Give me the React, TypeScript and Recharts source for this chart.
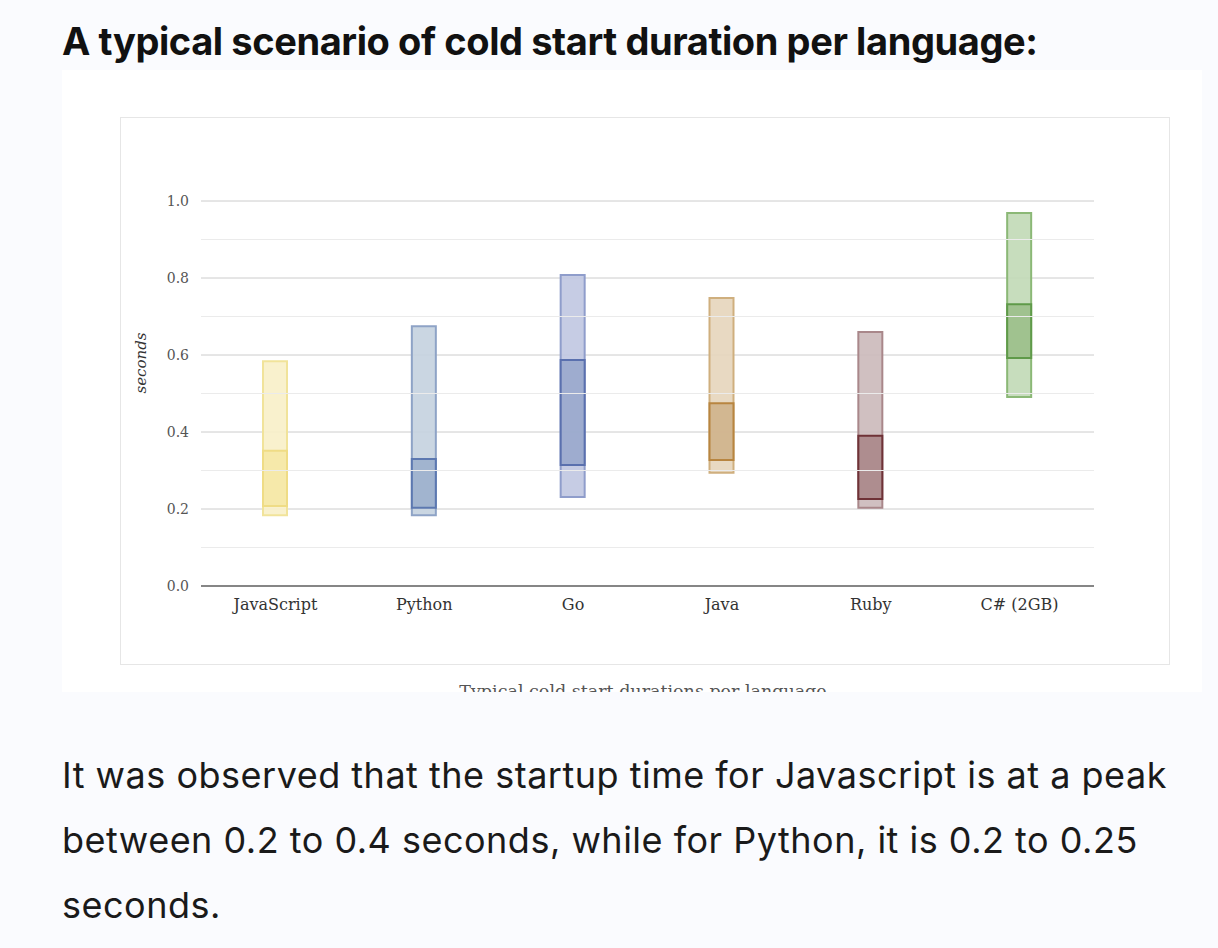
import React from "react";
import {
  BarChart,
  Bar,
  XAxis,
  YAxis,
  CartesianGrid,
  ReferenceLine,
  Cell,
} from "recharts";

const languages = ["JavaScript", "Python", "Go", "Java", "Ruby", "C# (2GB)"];
// full spread of cold start durations (seconds)
const outerLow = [0.184, 0.184, 0.231, 0.294, 0.203, 0.491];
const outerHigh = [0.584, 0.675, 0.808, 0.748, 0.66, 0.969];
// typical range
const innerLow = [0.208, 0.203, 0.314, 0.327, 0.226, 0.592];
const innerHigh = [0.351, 0.33, 0.587, 0.475, 0.39, 0.732];

const majorTicks = [0, 0.2, 0.4, 0.6, 0.8, 1.0];
const minorTicks = [0.1, 0.3, 0.5, 0.7, 0.9];

const outerFill = ["#f8f0c8", "#c4d1df", "#c0c7e1", "#e5d5bb", "#cbb9ba", "#c1d9b6"];
const outerStroke = ["#f1e39a", "#8ea3c6", "#8f9dcb", "#cfaf7e", "#a9878a", "#8bb876"];
const innerFill = ["#f5e8a6", "#9cb0cd", "#99a8cc", "#cfb38c", "#aa8789", "#9bbf89"];
const innerStroke = ["#efdc85", "#5c78b0", "#5a70ae", "#b88540", "#6f3237", "#5f9a49"];

const bodyLines = [
  "It was observed that the startup time for Javascript is at a peak",
  "between 0.2 to 0.4 seconds, while for Python, it is 0.2 to 0.25",
  "seconds.",
];

const data = languages.map((name, i) => ({
  name,
  outer: [outerLow[i], outerHigh[i]],
  inner: [innerLow[i], innerHigh[i]],
}));

const serif = "'DejaVu Serif', 'Liberation Serif', serif";

export default function App() {
  return (
    <div
      style={{
        position: "fixed",
        left: 0,
        top: 0,
        width: 1218,
        height: 948,
        background: "#fafbfe",
        overflow: "hidden",
        fontFamily: "Inter, 'Liberation Sans', sans-serif",
        color: "#111",
      }}
    >
      <div
        style={{
          position: "absolute",
          left: 62,
          top: 18,
          fontSize: 38,
          lineHeight: "46px",
          fontWeight: 700,
          letterSpacing: -0.4,
          whiteSpace: "nowrap",
        }}
      >
        A typical scenario of cold start duration per language:
      </div>

      <div
        style={{
          position: "absolute",
          left: 62,
          top: 70,
          width: 1140,
          height: 622,
          background: "#fff",
          overflow: "hidden",
        }}
      >
        <div
          style={{
            position: "absolute",
            left: 58,
            top: 47,
            width: 1048,
            height: 546,
            border: "1px solid #e6e6e6",
          }}
        >
          <BarChart
            width={1050}
            height={548}
            data={data}
            margin={{ top: 83, right: 77, bottom: 50, left: 0 }}
            barSize={24}
          >
            <CartesianGrid vertical={false} stroke="#cccccc" />
            {minorTicks.map((t) => (
              <ReferenceLine key={t} y={t} stroke="#ebebeb" />
            ))}
            <XAxis
              xAxisId="a"
              dataKey="name"
              height={30}
              tickLine={false}
              tickMargin={7}
              axisLine={{ stroke: "#666", strokeWidth: 1.5 }}
              tick={{ fill: "#333", fontSize: 16, fontFamily: serif }}
            />
            <XAxis xAxisId="b" dataKey="name" hide height={0} />
            <YAxis
              domain={[0, 1]}
              ticks={majorTicks}
              tickFormatter={(v) => Number(v).toFixed(1)}
              tickLine={false}
              axisLine={false}
              tickMargin={6}
              width={80}
              tick={{ fill: "#555", fontSize: 14, fontFamily: serif }}
              label={{
                value: "seconds",
                angle: -90,
                position: "insideLeft",
                offset: 20,
                style: { fill: "#333", fontSize: 15, fontStyle: "italic", fontFamily: serif },
              }}
            />
            <Bar xAxisId="a" dataKey="outer" strokeWidth={2} isAnimationActive={false}>
              {data.map((d, i) => (
                <Cell key={d.name} fill={outerFill[i]} fillOpacity={0.9} stroke={outerStroke[i]} />
              ))}
            </Bar>
            <Bar xAxisId="b" dataKey="inner" strokeWidth={2} isAnimationActive={false}>
              {data.map((d, i) => (
                <Cell key={d.name} fill={innerFill[i]} fillOpacity={0.9} stroke={innerStroke[i]} />
              ))}
            </Bar>
          </BarChart>
        </div>
        <div
          style={{
            position: "absolute",
            left: 0,
            width: 1162,
            top: 611,
            textAlign: "center",
            fontFamily: serif,
            fontSize: 17.5,
            color: "#555",
            whiteSpace: "nowrap",
          }}
        >
          Typical cold start durations per language
        </div>
      </div>

      <div
        style={{
          position: "absolute",
          left: 62,
          top: 743,
          fontSize: 36,
          lineHeight: "65px",
          letterSpacing: 0.5,
          color: "#1a1a1a",
          whiteSpace: "nowrap",
        }}
      >
        {bodyLines.map((l) => (
          <div key={l}>{l}</div>
        ))}
      </div>
    </div>
  );
}
